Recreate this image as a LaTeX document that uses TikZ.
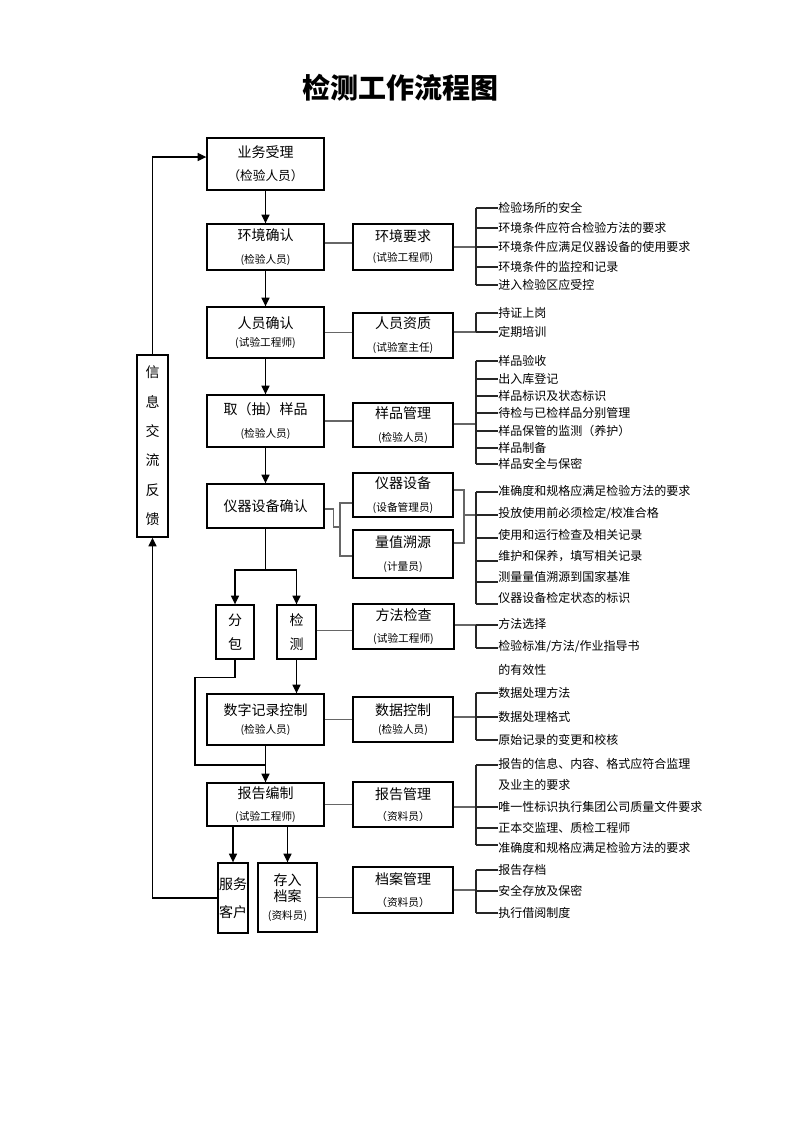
\documentclass[tikz,border=0pt]{standalone}
\usepackage{fontspec}
\setmainfont{Noto Sans CJK SC}
\usetikzlibrary{arrows.meta}
\newcommand\sbt[1]{{\fontsize{8pt}{9.5pt}\selectfont #1}}
\begin{document}
\begin{tikzpicture}[x=0.75pt,y=-0.75pt,
  box/.style={draw=black, line width=1pt, inner sep=0pt, align=center, font=\fontsize{10.5pt}{12pt}\selectfont},
  conn/.style={draw=black!60, line width=0.8pt},
  brk/.style={draw=black!85, line width=0.8pt},
  ln/.style={draw=black, line width=0.8pt},
  arr/.style={draw=black, line width=1pt, -{Triangle[length=6.5pt,width=6pt]}},
  item/.style={anchor=west, inner sep=0pt, font=\fontsize{9pt}{11pt}\selectfont}]
\path[use as bounding box, fill=white] (0,0) rectangle (793,1122);

\node[font=\fontsize{21pt}{24pt}\selectfont\bfseries] (title) at (400,88) {检测工作流程图};

% left column boxes
\node[box, minimum width=117*0.75pt, minimum height=52*0.75pt] (b1) at (265.5,164) {业务受理\\[5pt]{\fontsize{9.5pt}{11pt}\selectfont （检验人员）}};
\node[box, minimum width=117*0.75pt, minimum height=46*0.75pt] (b2) at (265.5,247) {环境确认\\[5pt]\sbt{(检验人员)}};
\node[box, minimum width=117*0.75pt, minimum height=51*0.75pt] (b3) at (265.5,332.5) {人员确认\\[2pt]\sbt{(试验工程师)}};
\node[box, minimum width=117*0.75pt, minimum height=52*0.75pt] (b4) at (265.5,421) {取（抽）样品\\[5pt]\sbt{(检验人员)}};
\node[box, minimum width=117*0.75pt, minimum height=44*0.75pt] (b5) at (265.5,506) {仪器设备确认};
\node[box, minimum width=38*0.75pt, minimum height=54*0.75pt] (fb) at (235,632) {分\\[6.5pt]包};
\node[box, minimum width=39*0.75pt, minimum height=54*0.75pt] (jc) at (296.5,632) {检\\[6.5pt]测};
\node[box, minimum width=117*0.75pt, minimum height=51*0.75pt] (b7) at (265.5,719.5) {数字记录控制\\[2pt]\sbt{(检验人员)}};
\node[box, minimum width=117*0.75pt, minimum height=43*0.75pt] (b8) at (265.5,804.5) {报告编制\\[4pt]\sbt{(试验工程师)}};
\node[box, minimum width=30*0.75pt, minimum height=70*0.75pt] (kh) at (233,898) {服务\\[9pt]客户};
\node[box, minimum width=59*0.75pt, minimum height=69*0.75pt] (da) at (287.5,897.5) {存入\\档案\\[1pt]\sbt{(资料员)}};
\node[box, minimum width=31*0.75pt, minimum height=182*0.75pt] (info) at (152.5,446) {信\\[10pt]息\\[10pt]交\\[10pt]流\\[10pt]反\\[10pt]馈};

% middle column boxes
\node[box, minimum width=100*0.75pt, minimum height=46*0.75pt] (r2) at (403,247) {环境要求\\[3pt]\sbt{(试验工程师)}};
\node[box, minimum width=100*0.75pt, minimum height=45*0.75pt] (r3) at (403,335.5) {人员资质\\[5pt]\sbt{(试验室主任)}};
\node[box, minimum width=100*0.75pt, minimum height=44*0.75pt] (r4) at (403,425) {样品管理\\[5pt]\sbt{(检验人员)}};
\node[box, minimum width=100*0.75pt, minimum height=44*0.75pt] (r5a) at (403,495) {仪器设备\\[5pt]\sbt{(设备管理员)}};
\node[box, minimum width=100*0.75pt, minimum height=48*0.75pt] (r5b) at (403,554) {量值溯源\\[5pt]\sbt{(计量员)}};
\node[box, minimum width=101*0.75pt, minimum height=45*0.75pt] (r6) at (403.5,626.5) {方法检查\\[5pt]\sbt{(试验工程师)}};
\node[box, minimum width=100*0.75pt, minimum height=45*0.75pt] (r7) at (403,719.5) {数据控制\\[2pt]\sbt{(检验人员)}};
\node[box, minimum width=100*0.75pt, minimum height=45*0.75pt] (r8) at (403,804.5) {报告管理\\[4pt]\sbt{（资料员）}};
\node[box, minimum width=100*0.75pt, minimum height=46*0.75pt] (r9) at (403,890) {档案管理\\[5pt]\sbt{（资料员）}};

% main flow arrows
\draw[arr] (b1) -- (b2);
\draw[arr] (b2) -- (b3);
\draw[arr] (b3) -- (b4);
\draw[arr] (b4) -- (b5);
\coordinate (split) at (265.5,570);
\draw[ln] (b5.south) -- (split);
\draw[arr] (split) -| (fb.north);
\draw[arr] (split) -| (jc.north);
\draw[arr] (jc.south) -- (jc.south |- b7.north);
\coordinate (m) at (265.5,765);
\draw[ln] (fb.south) -- ++(0,18) -| (195,765) -- (m);
\draw[arr] (b7) -- (b8);
\draw[arr] (kh.north |- b8.south) -- (kh.north);
\draw[arr] (da.north |- b8.south) -- (da.north);
\draw[arr] (kh.west) -| (info.south);
\draw[arr] (info.north) |- ([yshift=5.25pt]b1.west);

% left-to-middle connectors
\draw[conn] ([yshift=3pt]b2.east) -- ([yshift=3pt]r2.west);
\draw[conn] (b3.east) -- (b3.east -| r3.west);
\draw[conn] (b4.east) -- (b4.east -| r4.west);
\coordinate (ea) at (340,503);
\coordinate (eb) at (340,556);
\draw[conn] ([yshift=-2.25pt]b5.east) -- ++(9,0) |- (340,527);
\draw[conn] (r5a.west |- ea) -- (ea) -- (eb) -- (r5b.west |- eb);
\draw[conn] ([yshift=1pt]jc.east) -- ([yshift=1pt]jc.east -| r6.west);
\draw[conn] (b7.east) -- (r7.west);
\draw[conn] (b8.east) -- (r8.west);
\draw[conn] (da.east) -- (da.east -| r9.west);

% equipment right join
\coordinate (eq) at (464,515);
\draw[conn] ([yshift=3.75pt]r5a.east) -| (eq) |- ([yshift=8.25pt]r5b.east);

% right brackets
\coordinate (k2) at (476,247);
\draw[conn] (r2.east) -- (k2);
\draw[brk] (476,208) -- (476,285);
\foreach \t/\y [count=\i] in {检验场所的安全/208, 环境条件应符合检验方法的要求/228, 环境条件应满足仪器设备的使用要求/247, 环境条件的监控和记录/267, 进入检验区应受控/285}{
  \node[item] (ia\i) at (498,\y) {\t};
  \draw[brk] (476,\y) -- (ia\i.west);}

\coordinate (k3) at (476,332);
\draw[conn] (r3.east |- k3) -- (k3);
\draw[brk] (476,313) -- (476,332);
\foreach \t/\y [count=\i] in {持证上岗/313, 定期培训/332}{
  \node[item] (ib\i) at (498,\y) {\t};
  \draw[brk] (476,\y) -- (ib\i.west);}

\coordinate (k4) at (476,424);
\draw[conn] (r4.east |- k4) -- (k4);
\draw[brk] (476,361) -- (476,464);
\foreach \t/\y [count=\i] in {样品验收/361, 出入库登记/379, 样品标识及状态标识/396, 待检与已检样品分别管理/413, 样品保管的监测（养护）/431, 样品制备/448, 样品安全与保密/464}{
  \node[item] (ic\i) at (498,\y) {\t};
  \draw[brk] (476,\y) -- (ic\i.west);}

\coordinate (k5) at (476,515);
\draw[conn] (eq) -- (k5);
\draw[brk] (476,492) -- (476,604);
\foreach \t/\y/\d [count=\i] in {准确度和规格应满足检验方法的要求/491/1, {投放使用前必须检定/校准合格}/513/2, 使用和运行检查及相关记录/535/3, {维护和保养，填写相关记录}/556/5, 测量量值溯源到国家基准/577/5, 仪器设备检定状态的标识/598/6}{
  \node[item] (id\i) at (498,\y) {\t};
  \draw[brk] (476,\y+\d) -- (498,\y+\d);}

\coordinate (k6) at (476,625);
\draw[conn] (r6.east |- k6) -- (k6);
\draw[brk] (476,625) -- (476,648);
\node[item] (ie1) at (498,624) {方法选择};
\node[item] (ie2) at (498,646) {检验标准/方法/作业指导书};
\node[item] (ie3) at (498,670) {的有效性};
\draw[brk] (k6) -- (ie1.west |- k6);
\draw[brk] (476,648) -- (ie2.west |- 0,648);

\coordinate (k7) at (476,717);
\draw[conn] (r7.east |- k7) -- (k7);
\draw[brk] (476,693) -- (476,740);
\foreach \t/\y [count=\i] in {数据处理方法/693, 数据处理格式/717, 原始记录的变更和校核/740}{
  \node[item] (if\i) at (498,\y) {\t};
  \draw[brk] (476,\y) -- (if\i.west);}

\coordinate (k8) at (476,807);
\draw[conn] (r8.east |- k8) -- (k8);
\draw[brk] (476,765) -- (476,845);
\node[item] (ig1) at (498,764) {报告的信息、内容、格式应符合监理};
\node[item] (ig2) at (498,785) {及业主的要求};
\node[item] (ig3) at (498,807) {唯一性标识执行集团公司质量文件要求};
\node[item] (ig4) at (498,828) {正本交监理、质检工程师};
\node[item] (ig5) at (498,848) {准确度和规格应满足检验方法的要求};
\draw[brk] (476,765) -- (498,765);
\draw[brk] (k8) -- (ig3.west);
\draw[brk] (476,828) -- (ig4.west);
\draw[brk] (476,845) -- (498,845);

\coordinate (k9) at (476,890);
\draw[conn] (r9.east |- k9) -- (k9);
\draw[brk] (476,870) -- (476,913);
\foreach \t/\y [count=\i] in {报告存档/870, 安全存放及保密/891, 执行借阅制度/913}{
  \node[item] (ih\i) at (498,\y) {\t};
  \draw[brk] (476,\y) -- (ih\i.west);}
\end{tikzpicture}
\end{document}
